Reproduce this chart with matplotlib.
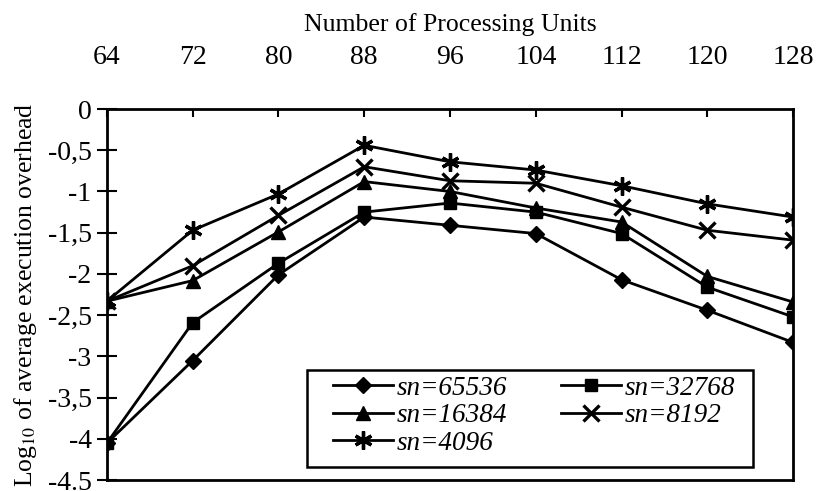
import matplotlib.pyplot as plt
from matplotlib.patches import Rectangle
import numpy as np

plt.rcParams['font.family'] = ['Liberation Serif', 'DejaVu Serif']
plt.rcParams['mathtext.fontset'] = 'stix'

units = [64, 72, 80, 88, 96, 104, 112, 120, 128]

sn65536 = [-4.05, -3.05, -2.01, -1.31, -1.41, -1.51, -2.07, -2.44, -2.83]
sn32768 = [-4.05, -2.59, -1.87, -1.25, -1.14, -1.25, -1.51, -2.16, -2.52]
sn16384 = [-2.33, -2.08, -1.49, -0.88, -1.00, -1.20, -1.37, -2.03, -2.34]
sn8192 = [-2.33, -1.90, -1.29, -0.70, -0.87, -0.90, -1.19, -1.47, -1.59]
sn4096 = [-2.33, -1.47, -1.03, -0.44, -0.64, -0.74, -0.93, -1.15, -1.31]

ytick_vals = [0, -0.5, -1, -1.5, -2, -2.5, -3, -3.5, -4, -4.5]
ytick_text = ['0', '-0,5', '-1', '-1,5', '-2', '-2,5', '-3', '-3,5', '-4', '-4.5']

series = [
    ('sn=65536', sn65536, 'D', 8),
    ('sn=16384', sn16384, '^', 10),
    ('sn=4096', sn4096, (6, 2, 0), 13),
    ('sn=32768', sn32768, 's', 9),
    ('sn=8192', sn8192, 'x', 12),
]

fig = plt.figure(figsize=(8.16, 4.91), dpi=100)
ax = fig.add_axes([0.131, 0.022, 0.841, 0.756])

x = np.arange(len(units))
for label, vals, mk, ms in series:
    ax.plot(x, vals, color='black', lw=2, marker=mk, markersize=ms,
            markeredgewidth=2.4 if mk in ('x', (6, 2, 0)) else 1,
            label=label)

ax.set_xlim(0, len(units) - 1)
ax.set_ylim(-4.5, 0)
ax.xaxis.tick_top()
ax.xaxis.set_label_position('top')
ax.set_xticks(x)
ax.set_xticklabels([str(u) for u in units])
ax.set_yticks(ytick_vals)
ax.set_yticklabels(ytick_text)
ax.tick_params(axis='x', direction='in', length=6, width=1.5, labelsize=20, pad=28)
ax.tick_params(axis='y', direction='inout', length=14, width=1.5, labelsize=20, pad=4)
for s in ax.spines.values():
    s.set_linewidth(2)

ax.set_xlabel('Number of Processing Units', fontsize=18.5, labelpad=10)
ax.set_ylabel('Log$_{10}$ of average execution overhead', fontsize=18.5, labelpad=6)

# legend box drawn separately so it can be wider than its entries
ax.add_patch(Rectangle((0.2915, 0.035), 0.650, 0.2615, transform=ax.transAxes,
                       facecolor='white', edgecolor='black', lw=1.8, zorder=4))
leg = ax.legend(ncol=2, loc='upper left', bbox_to_anchor=(0.3294, 0.282),
                prop={'style': 'italic', 'size': 19.5}, frameon=False,
                handlelength=2.2, handletextpad=0.15, columnspacing=2.0,
                labelspacing=0.1, borderpad=0, borderaxespad=0)
leg.set_zorder(5)

fig.savefig('out.png', dpi=100)
